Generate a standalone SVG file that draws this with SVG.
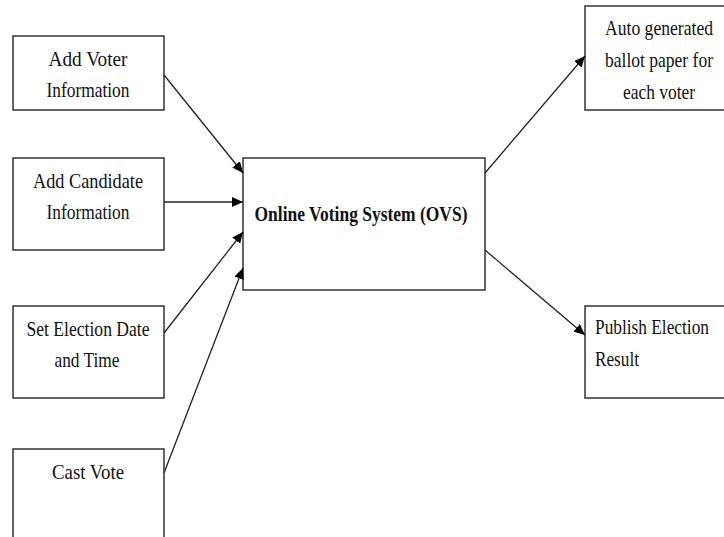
<svg xmlns="http://www.w3.org/2000/svg" width="724" height="537" viewBox="0 0 724 537">
<style>
.box{fill:#fff;stroke:#333;stroke-width:1.5}
.t{font-family:"Liberation Serif","Times New Roman",serif;font-size:21px;fill:#111;text-anchor:middle}
.l{text-anchor:start}
.b{font-weight:bold;font-size:22px}
.c{fill:none;stroke:#222;stroke-width:1.3;marker-end:url(#ah)}
</style>
<defs>
<marker id="ah" viewBox="0 0 10 10" refX="10" refY="5" markerWidth="11" markerHeight="11" markerUnits="userSpaceOnUse" orient="auto">
<path d="M0,0.5 L10,5 L0,9.5 z" fill="#000"/>
</marker>
</defs>
<rect width="724" height="537" fill="#fff"/>
<g id="voter"><rect class="box" x="13" y="36" width="151" height="74"/><text class="t" x="88" y="66" textLength="79" lengthAdjust="spacingAndGlyphs">Add Voter</text><text class="t" x="88" y="97" textLength="83" lengthAdjust="spacingAndGlyphs">Information</text></g>
<g id="candidate"><rect class="box" x="13" y="158" width="151" height="92"/><text class="t" x="88" y="188" textLength="110" lengthAdjust="spacingAndGlyphs">Add Candidate</text><text class="t" x="88" y="219" textLength="83" lengthAdjust="spacingAndGlyphs">Information</text></g>
<g id="election"><rect class="box" x="13" y="306" width="151" height="92"/><text class="t" x="88" y="336" textLength="123" lengthAdjust="spacingAndGlyphs">Set Election Date</text><text class="t" x="87" y="367" textLength="65" lengthAdjust="spacingAndGlyphs">and Time</text></g>
<g id="cast"><rect class="box" x="13" y="449" width="151" height="100"/><text class="t" x="88" y="479" textLength="72" lengthAdjust="spacingAndGlyphs">Cast Vote</text></g>
<g id="ovs"><rect class="box" x="243" y="158" width="242" height="132"/><text class="t b" x="361" y="221" textLength="213" lengthAdjust="spacingAndGlyphs">Online Voting System (OVS)</text></g>
<g id="ballot"><rect class="box" x="585" y="6" width="145" height="104"/><text class="t" x="659" y="35" textLength="108" lengthAdjust="spacingAndGlyphs">Auto generated</text><text class="t" x="659" y="67" textLength="108" lengthAdjust="spacingAndGlyphs">ballot paper for</text><text class="t" x="659" y="99" textLength="72" lengthAdjust="spacingAndGlyphs">each voter</text></g>
<g id="publish"><rect class="box" x="585" y="306" width="145" height="92"/><text class="t l" x="595" y="334" textLength="114" lengthAdjust="spacingAndGlyphs">Publish Election</text><text class="t l" x="595" y="366" textLength="44" lengthAdjust="spacingAndGlyphs">Result</text></g>
<g id="connectors">
<line class="c" x1="164" y1="75" x2="243" y2="173"/>
<line class="c" x1="164" y1="202" x2="243" y2="202"/>
<line class="c" x1="164" y1="333" x2="243" y2="232"/>
<line class="c" x1="164" y1="473" x2="243" y2="268"/>
<line class="c" x1="485" y1="173" x2="585" y2="56"/>
<line class="c" x1="485" y1="250" x2="585" y2="335"/>
</g>
</svg>
